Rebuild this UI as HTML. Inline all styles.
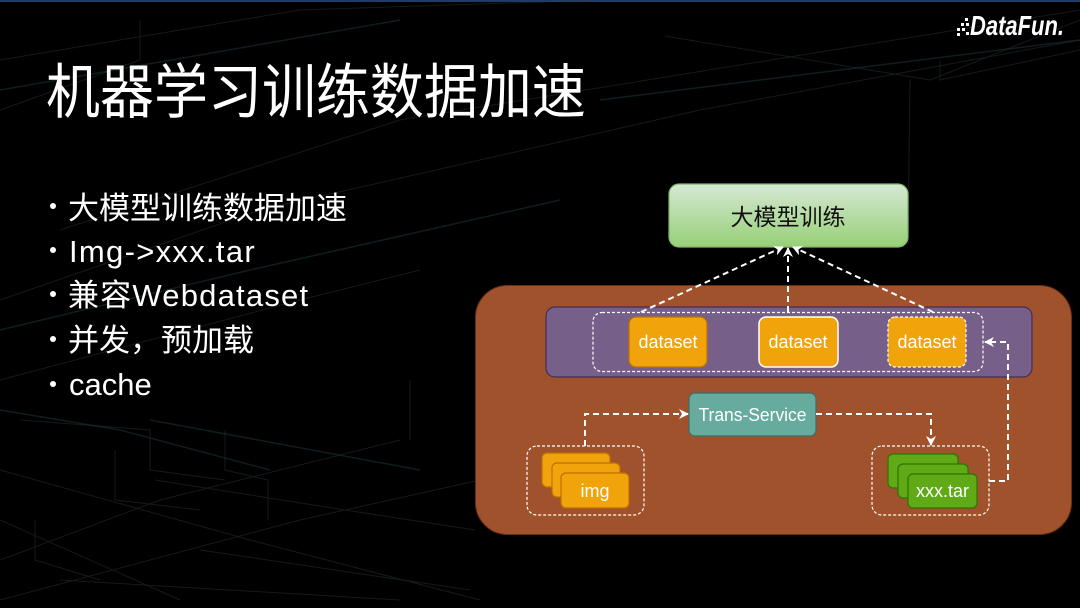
<!DOCTYPE html>
<html><head><meta charset="utf-8"><style>
html,body{margin:0;padding:0;background:#000;}
svg{display:block;}
</style></head><body>
<svg width="1080" height="608" viewBox="0 0 1080 608" xmlns="http://www.w3.org/2000/svg">
<defs>
<linearGradient id="gg" x1="0" y1="0" x2="0" y2="1">
<stop offset="0" stop-color="#d5e8d4"/><stop offset="1" stop-color="#97d077"/>
</linearGradient>
<marker id="ar" viewBox="0 0 10 10" refX="9" refY="5" markerWidth="10" markerHeight="10" markerUnits="userSpaceOnUse" orient="auto">
<path d="M0,0 L10,5 L0,10 L3,5 Z" fill="#fff"/>
</marker>
</defs>
<rect width="1080" height="608" fill="#000"/>
<rect width="1080" height="2" fill="#1f3b66"/>
<!-- faint background circuit lines -->
<g fill="none" stroke="#3a4a50" stroke-width="1" opacity="0.35">
<path d="M0,60 L300,10 L600,0"/>
<path d="M0,110 L140,60 L140,20"/>
<path d="M60,230 L400,120 L1080,10"/>
<path d="M0,300 L260,210 L700,110 L1080,40"/>
<path d="M0,380 L300,300 L420,270"/>
<path d="M665,36 L930,80 L1080,20"/>
<path d="M0,560 L160,500 L400,440"/>
<path d="M0,600 L300,520 L480,480"/>
<path d="M20,420 L150,430 L150,470 L225,480"/>
<path d="M115,450 L115,500 L200,510"/>
<path d="M225,430 L225,470 L268,480 L268,520"/>
<path d="M155,480 L345,510 L475,530"/>
<path d="M35,520 L35,560 L100,580"/>
<path d="M0,470 L250,540 L480,600"/>
<path d="M60,580 L400,600"/>
<path d="M200,550 L470,590"/>
<path d="M0,520 L180,600"/>
<path d="M410,380 L410,440"/>
<path d="M940,60 L940,80 L1080,50"/>
<path d="M908,245 L910,80"/>
</g>
<g fill="none" stroke="#1e3a3e" stroke-width="1.5" opacity="0.5">
<path d="M0,330 L250,270 L560,200"/>
<path d="M0,410 L120,430 L270,470"/>
<path d="M150,420 L420,470"/>
<path d="M0,90 L400,20"/>
<path d="M600,100 L1080,40"/>
</g>

<!-- Title -->
<text transform="translate(46,113) scale(1,1.1)" font-family="'Liberation Sans','Noto Sans CJK SC',sans-serif" font-size="54" fill="#fff">机器学习训练数据加速</text>

<!-- Bullets -->
<g fill="#fff" font-family="'Liberation Sans','Noto Sans CJK SC',sans-serif" font-size="31">
<circle cx="53" cy="206" r="3"/>
<circle cx="53" cy="250" r="3"/>
<circle cx="53" cy="294" r="3"/>
<circle cx="53" cy="339" r="3"/>
<circle cx="53" cy="384" r="3"/>
<text x="68" y="219">大模型训练数据加速</text>
<text x="69" y="262" letter-spacing="1.3">Img-&gt;xxx.tar</text>
<text x="68" y="306" letter-spacing="1.2">兼容Webdataset</text>
<text x="68" y="351">并发，预加载</text>
<text x="69" y="395">cache</text>
</g>

<!-- Logo -->
<g fill="#fff">
<rect x="965" y="18" width="3" height="3"/>
<rect x="961" y="23" width="3" height="3"/>
<rect x="966" y="23" width="3" height="3"/>
<rect x="957" y="28" width="3" height="3"/>
<rect x="962" y="28" width="3" height="3"/>
<rect x="957" y="33" width="3" height="3"/>
<rect x="966" y="32" width="3" height="3"/>
<text x="970" y="35" font-family="'Liberation Sans',sans-serif" font-size="28" font-weight="bold" font-style="italic" textLength="94" lengthAdjust="spacingAndGlyphs">DataFun.</text>
</g>

<!-- Diagram -->
<rect x="669" y="184" width="239" height="63" rx="10" fill="url(#gg)" stroke="#82b366" stroke-width="1.2"/>
<text x="788" y="225" text-anchor="middle" font-family="'Liberation Sans','Noto Sans CJK SC',sans-serif" font-size="23" fill="#111">大模型训练</text>

<rect x="475.5" y="285.5" width="596" height="249" rx="32" fill="#a0522d" stroke="#6d2f12" stroke-width="1"/>
<rect x="546" y="307" width="486" height="70" rx="9" fill="#76608a" stroke="#432d57" stroke-width="1.2"/>
<rect x="593" y="312.5" width="390" height="59" rx="9" fill="none" stroke="#fff" stroke-width="1.2" stroke-dasharray="3 2"/>

<g font-family="'Liberation Sans',sans-serif" font-size="18" fill="#fff" text-anchor="middle">
<rect x="629" y="317" width="78" height="50" rx="7" fill="#f0a30a" stroke="#bd7000" stroke-width="1.2"/>
<text x="668" y="348">dataset</text>
<rect x="759" y="317" width="79" height="50" rx="7" fill="#f0a30a" stroke="#fff" stroke-width="1.5"/>
<text x="798" y="348">dataset</text>
<rect x="888" y="317" width="78" height="50" rx="7" fill="#f0a30a" stroke="#fff" stroke-width="1.2" stroke-dasharray="3 2"/>
<text x="927" y="348">dataset</text>

<rect x="689" y="393" width="127" height="43" rx="6" fill="#67ab9f" stroke="#3c6d65" stroke-width="1.2"/>
<text x="752.5" y="421" textLength="108" lengthAdjust="spacingAndGlyphs">Trans-Service</text>

<rect x="527" y="446" width="117" height="69" rx="10" fill="none" stroke="#fff" stroke-width="1.2" stroke-dasharray="3 2"/>
<rect x="542" y="453" width="68" height="34" rx="5" fill="#f0a30a" stroke="#bd7000" stroke-width="1.2"/>
<rect x="552" y="463" width="68" height="34" rx="5" fill="#f0a30a" stroke="#bd7000" stroke-width="1.2"/>
<rect x="561" y="473" width="68" height="35" rx="5" fill="#f0a30a" stroke="#bd7000" stroke-width="1.2"/>
<text x="595" y="497">img</text>

<rect x="872" y="446" width="117" height="69" rx="10" fill="none" stroke="#fff" stroke-width="1.2" stroke-dasharray="3 2"/>
<rect x="888" y="454" width="70" height="34" rx="5" fill="#60a917" stroke="#2d7600" stroke-width="1.2"/>
<rect x="898" y="464" width="70" height="34" rx="5" fill="#60a917" stroke="#2d7600" stroke-width="1.2"/>
<rect x="908" y="474" width="69" height="34" rx="5" fill="#60a917" stroke="#2d7600" stroke-width="1.2"/>
<text x="942.5" y="497">xxx.tar</text>
</g>

<g fill="none" stroke="#fff" stroke-width="2" stroke-dasharray="6 4">
<path d="M585,446 V414 H688" marker-end="url(#ar)"/>
<path d="M816,414 H931 V445" marker-end="url(#ar)"/>
<path d="M989,481 H1008 V342 H985" marker-end="url(#ar)"/>
<path d="M641,312 L783,247" marker-end="url(#ar)"/>
<path d="M788,312 V248" marker-end="url(#ar)"/>
<path d="M933,312 L793,247" marker-end="url(#ar)"/>
</g>
</svg>
</body></html>
